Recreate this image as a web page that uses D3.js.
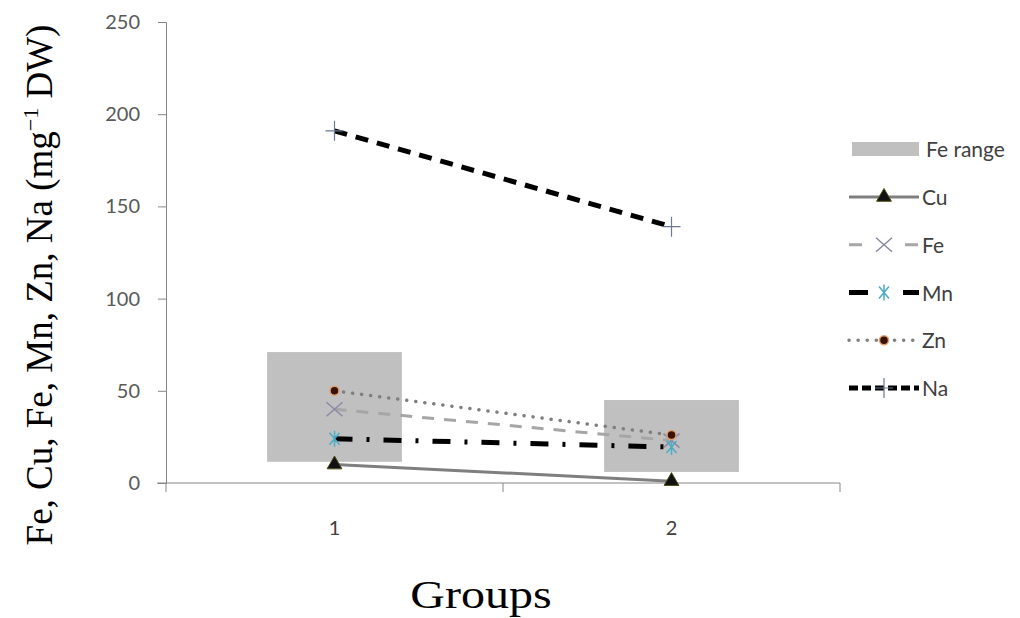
<!DOCTYPE html>
<html>
<head>
<meta charset="utf-8">
<script src="https://cdn.jsdelivr.net/npm/d3@7.9.0/dist/d3.min.js"></script>
<style>
  body { margin: 0; background: #fff; }
  svg text { font-family: Lato, Carlito, "Liberation Sans", sans-serif; }
</style>
</head>
<body>
<svg width="1020" height="618"></svg>
<script>
// data
const groups = ['1', '2'];
const feRangeLow = [11.5, 6];
const feRangeHigh = [71, 45];
const cu = [10, 1];
const fe = [40, 23];
const mn = [24, 19.5];
const zn = [50, 26];
const na = [191, 139];
const yTicks = [0, 50, 100, 150, 200, 250];

const series = [
  { name: 'Cu', values: cu, color: '#7f7f7f', width: 3, dash: null, legendDash: null, marker: 'triangle' },
  { name: 'Fe', values: fe, color: '#a6a6a6', width: 3, dash: '12,10', legendDash: '13,43', marker: 'x' },
  { name: 'Mn', values: mn, color: '#000', width: 5, dash: '18,14,3,14', legendDash: '19,35', marker: 'star' },
  { name: 'Zn', values: zn, color: '#7f7f7f', width: 3.5, dash: '0.1,9', legendDash: '0.1,9', marker: 'circle', cap: 'round' },
  { name: 'Na', values: na, color: '#000', width: 5, dash: '13,9', legendDash: '9,4', marker: 'plus' }
];

const svg = d3.select('svg');
const plotLeft = 166, plotRight = 840, plotTop = 22, plotBottom = 483;

const x = d3.scaleBand().domain(groups).range([plotLeft, plotRight]);
const y = d3.scaleLinear().domain([0, 250]).range([plotBottom, plotTop]);
const bw = x.bandwidth();
const cx = d => x(d) + bw / 2;

// Fe range boxes
svg.selectAll('rect.range')
  .data(groups)
  .enter().append('rect')
  .attr('x', d => x(d) + bw * 0.3)
  .attr('width', bw * 0.4)
  .attr('y', (d, i) => y(feRangeHigh[i]))
  .attr('height', (d, i) => y(feRangeLow[i]) - y(feRangeHigh[i]))
  .attr('fill', '#c0c0c0');

// axes
const yAxis = svg.append('g').attr('transform', `translate(${plotLeft},0)`)
  .call(d3.axisLeft(y).tickValues(yTicks).tickSize(8).tickPadding(18));
yAxis.attr('font-family', null);
yAxis.select('.domain').attr('stroke', '#868686');
yAxis.selectAll('.tick line').attr('stroke', '#868686');
yAxis.selectAll('.tick text').attr('fill', '#595959').style('font-size', '20px');

const xAxisG = svg.append('g').attr('transform', `translate(0,${plotBottom})`);
xAxisG.append('line').attr('x1', plotLeft - 9).attr('x2', plotRight)
  .attr('stroke', '#868686');
xAxisG.selectAll('line.tk')
  .data([plotLeft, x('2'), plotRight])
  .enter().append('line')
  .attr('x1', d => d).attr('x2', d => d)
  .attr('y1', 0).attr('y2', 9)
  .attr('stroke', '#868686');
xAxisG.selectAll('text')
  .data(groups)
  .enter().append('text')
  .attr('x', d => cx(d)).attr('y', 52)
  .attr('text-anchor', 'middle')
  .attr('fill', '#404040')
  .style('font-size', '20px')
  .text(d => d);

// markers
function drawMarker(g, type, px, py) {
  if (type === 'triangle') {
    g.append('path').attr('d', d3.symbol(d3.symbolTriangle, 95)())
      .attr('transform', `translate(${px},${py})`)
      .attr('fill', '#111').attr('stroke', '#4d4d14').attr('stroke-width', 1);
  } else if (type === 'x') {
    g.append('path').attr('d', 'M-8,-7L8,7M-8,7L8,-7')
      .attr('transform', `translate(${px},${py})`)
      .attr('stroke', '#8a8aa6').attr('stroke-width', 1.5).attr('fill', 'none');
  } else if (type === 'star') {
    g.append('path').attr('d', 'M-5,-6L5,6M-5,6L5,-6M0,-8L0,8')
      .attr('transform', `translate(${px},${py})`)
      .attr('stroke', '#4bacc6').attr('stroke-width', 1.5).attr('fill', 'none');
  } else if (type === 'circle') {
    g.append('circle').attr('cx', px).attr('cy', py).attr('r', 4.5)
      .attr('fill', '#3a1208').attr('stroke', '#e0a070').attr('stroke-width', 1.5);
  } else if (type === 'plus') {
    g.append('path').attr('d', 'M-9,0L9,0M0,-10L0,10')
      .attr('transform', `translate(${px},${py})`)
      .attr('stroke', '#6a7a90').attr('stroke-width', 1.2).attr('fill', 'none');
  }
}

const line = d3.line().x((d, i) => cx(groups[i])).y(d => y(d));

series.forEach(s => {
  const g = svg.append('g');
  g.append('path')
    .attr('d', line(s.values))
    .attr('fill', 'none')
    .attr('stroke', s.color)
    .attr('stroke-width', s.width)
    .attr('stroke-dasharray', s.dash)
    .attr('stroke-linecap', s.cap || 'butt');
  s.values.forEach((v, i) => drawMarker(g, s.marker, cx(groups[i]), y(v)));
});

// legend
const lg = svg.append('g');
lg.append('rect').attr('x', 852).attr('y', 142).attr('width', 67).attr('height', 14)
  .attr('fill', '#c0c0c0');
lg.append('text').attr('x', 926).attr('y', 157).attr('fill', '#404040')
  .style('font-size', '21px').text('Fe range');
const rowY = d3.scalePoint().domain(series.map(s => s.name)).range([197, 388]);
series.forEach(s => {
  const yy = rowY(s.name);
  const g = lg.append('g');
  g.append('line').attr('x1', 849).attr('x2', 919).attr('y1', yy).attr('y2', yy)
    .attr('stroke', s.color)
    .attr('stroke-width', s.width)
    .attr('stroke-dasharray', s.legendDash)
    .attr('stroke-linecap', s.cap || 'butt');
  drawMarker(g, s.marker, 884, yy);
  g.append('text').attr('x', 922).attr('y', yy + 8).attr('fill', '#404040')
    .style('font-size', '21px').text(s.name);
});

// axis titles
svg.append('text')
  .attr('transform', 'translate(52,285) rotate(-90)')
  .attr('text-anchor', 'middle')
  .style('font-family', '"Liberation Serif", "DejaVu Serif", serif')
  .style('font-size', '37px')
  .attr('fill', '#000')
  .html('Fe, Cu, Fe, Mn, Zn, Na (mg<tspan dy="-14" style="font-size:22px">\u22121</tspan><tspan dy="14"> DW)</tspan>');

svg.append('text')
  .attr('transform', 'translate(481,608) scale(1.2,1)')
  .attr('text-anchor', 'middle')
  .style('font-family', '"Liberation Serif", "DejaVu Serif", serif')
  .style('font-size', '40px')
  .attr('fill', '#000')
  .text('Groups');
</script>
</body>
</html>
